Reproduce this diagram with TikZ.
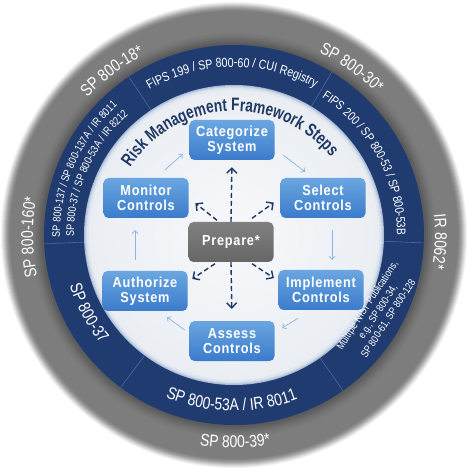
\documentclass[tikz,border=0pt]{standalone}
\usepackage{fontspec}
\setmainfont{Liberation Sans}
\newfontfamily\nar[FakeStretch=0.82]{Liberation Sans}
\newfontfamily\tnar[FakeStretch=0.76]{Liberation Sans}
\newfontfamily\bxf[FakeStretch=0.88,LetterSpace=5]{Liberation Sans}
\usetikzlibrary{decorations.text,arrows.meta,calc}

\definecolor{navy}{HTML}{1F3864}
\definecolor{ringblue}{HTML}{1F3B70}
\definecolor{divblue}{HTML}{4A6AA5}
\definecolor{boxtop}{HTML}{6AA6E1}
\definecolor{boxbot}{HTML}{3B7BCB}
\definecolor{prtop}{HTML}{808080}
\definecolor{prbot}{HTML}{666666}
\definecolor{cycblue}{HTML}{8DB3E2}
\definecolor{gbase}{HTML}{7D7D7D}
\definecolor{gdark}{HTML}{4F4F4F}
\definecolor{wA}{HTML}{F8F9FB}
\definecolor{wB}{HTML}{EAEEF3}
\definecolor{rimA}{HTML}{A9BBD6}
\definecolor{rimB}{HTML}{BFCDE1}
\definecolor{rimC}{HTML}{D1DBE9}
\definecolor{rimD}{HTML}{DFE6EF}

\newcommand\gAf{\nar\fontsize{17pt}{17pt}\selectfont\color{white}}
\newcommand\bAf{\nar\fontsize{13pt}{13pt}\selectfont\color{white}}
\newcommand\bBf{\nar\fontsize{12.5pt}{12.5pt}\selectfont\color{white}}
\newcommand\bCf{\nar\fontsize{11pt}{11pt}\selectfont\color{white}}
\newcommand\bDf{\nar\fontsize{17pt}{17pt}\selectfont\color{white}}
\newcommand\tTf{\tnar\bfseries\fontsize{18pt}{18pt}\selectfont\color{navy}}

% clockwise arc text: #1 format, #2 radius, #3 centre angle, #4 half span, #5 text
\newcommand{\cwtext}[5]{%
  \path[decorate,decoration={text along path,text align=center,text={|#1|#5}}]
    ({#3+#4}:#2pt) arc[start angle={#3+#4},end angle={#3-#4},radius=#2pt];}
% counter-clockwise arc text
\newcommand{\ccwtext}[5]{%
  \path[decorate,decoration={text along path,text align=center,text={|#1|#5}}]
    ({#3-#4}:#2pt) arc[start angle={#3-#4},end angle={#3+#4},radius=#2pt];}
% clockwise, left aligned from start angle #3 to #4
\newcommand{\cwtextleft}[5]{%
  \path[decorate,decoration={text along path,text align=left,text={|#1|#5}}]
    (#3:#2pt) arc[start angle=#3,end angle=#4,radius=#2pt];}

\tikzset{
  stepbox/.style={rounded corners=5pt, top color=boxtop, bottom color=boxbot,
    minimum width=85pt, minimum height=40pt, inner sep=0pt, align=center,
    text=white, font=\bxf\bfseries\fontsize{14.5pt}{15pt}\selectfont},
  prepbox/.style={stepbox, top color=prtop, bottom color=prbot},
  cyc/.style={draw=cycblue, line width=0.7pt, -{Straight Barb[length=3pt,width=6pt]}},
  dasharr/.style={draw=navy, line width=1.4pt, dash pattern=on 5pt off 3pt,
    -{Straight Barb[length=5pt,width=10pt,line width=1.4pt]}},
  divider/.style={draw=divblue, line width=0.6pt}
}

\begin{document}
\begin{tikzpicture}[x=1pt,y=1pt]
\useasboundingbox (-234,-233) rectangle (234,235);
\fill[white] (-234,-233) rectangle (234,235);

% outer gray ring with soft edge and inner shadow
\foreach \r/\p in {233/10,232/20,231/32,230/45,229/58,228/70,227/80,226/88,225/95,224/100}
  \fill[gbase!\p!white] (0,0) circle[radius=\r pt];
\foreach \r/\p in {202/8,200/18,198/30,196/45,194/60,192/75}
  \fill[gdark!\p!gbase] (0,0) circle[radius=\r pt];
% blue ring
\fill[ringblue] (0,0) circle[radius=190pt];
% inner light disc with bluish rim
\fill[rimA] (0,0) circle[radius=150pt];
\fill[rimB] (0,0) circle[radius=149pt];
\fill[rimC] (0,0) circle[radius=148pt];
\fill[rimD] (0,0) circle[radius=147pt];
\foreach \r in {145,140,...,5}{
  \pgfmathtruncatemacro\p{\r/1.45}
  \fill[wB!\p!wA] (0,0) circle[radius=\r pt];}

% dividers in blue ring
\foreach \a in {123.6,59,-2.4,-55,233.4,182.7}
  \draw[divider] (\a:150pt) -- (\a:190pt);

% gray ring texts
\cwtext{\gAf}{201}{126.7}{25}{SP 800-18*}
\cwtext{\gAf}{201}{54.8}{25}{SP 800-30*}
\cwtext{\gAf}{201}{-1.9}{25}{IR 8062*}
\cwtext{\gAf}{201}{180.6}{25}{SP 800-160*}
\ccwtext{\gAf}{213}{-89.7}{25}{SP 800-39*}

% blue ring texts
\cwtext{\bAf}{168}{90.7}{45}{FIPS 199 / SP 800-60 / CUI Registry}
\cwtext{\bBf}{163}{28.6}{40}{FIPS 200 / SP 800-53 / SP 800-53B}
\cwtextleft{\bCf}{174}{180.7}{100}{SP 800-137 / SP 800-137A / IR 8011}
\cwtextleft{\bCf}{160}{180.7}{100}{SP 800-37 / SP 800-53A / IR 8212}
\ccwtext{\bDf}{172}{208.2}{25}{SP 800-37}
\ccwtext{\bDf}{176}{-90.8}{35}{SP 800-53A / IR 8011}
\node[rotate=57, align=center, text=white, inner sep=0pt,
  font=\nar\fontsize{10.5pt}{12.5pt}\selectfont] (multi) at (144,-77)
  {Multiple NIST Publications,\\e.g., SP 800-34,\\SP 800-61, SP 800-128};

% title
\cwtext{\tTf}{124}{92.7}{70}{Risk Management Framework Steps}

% step boxes
\node[stepbox] (cat) at (-2,95) {Categorize\\System};
\node[stepbox] (sel) at (89,37) {Select\\Controls};
\node[stepbox] (impl) at (87,-55) {Implement\\Controls};
\node[stepbox] (ass) at (-2,-106) {Assess\\Controls};
\node[stepbox] (auth) at (-89,-56) {Authorize\\System};
\node[stepbox] (mon) at (-88,37) {Monitor\\Controls};
\node[prepbox] (prep) at (-3,-7) {Prepare*};

% cycle arrows
\draw[cyc] ($(cat.east)+(8.5,-15)$) -- ($(sel.north)+(-18,6)$);
\draw[cyc] ($(sel.south)+(9,-12)$) -- ($(impl.north)+(11,10)$);
\draw[cyc] ($(impl.south)+(-23,-8)$) -- ($(ass.east)+(7.5,13)$);
\draw[cyc] ($(ass.west)+(-4.5,11)$) -- ($(auth.south)+(22,-6)$);
\draw[cyc] ($(auth.north)+(-10,11)$) -- ($(mon.south)+(-11,-12)$);
\draw[cyc] ($(mon.north)+(19,8)$) -- ($(cat.west)+(-6.5,-14)$);

% prepare arrows
\draw[dasharr, shorten >=7pt] (prep.north) -- (cat.south);
\draw[dasharr, shorten >=12pt] (prep.south) -- (ass.north);
\draw[dasharr, shorten >=8.5pt] ($(prep.north)+(-14,1.5)$) -- (mon.east);
\draw[dasharr, shorten >=8pt] ($(prep.north)+(21,3.5)$) -- (sel.west);
\draw[dasharr, shorten >=5.5pt] ($(prep.south)+(-16,-1.5)$) -- ($(auth.east)+(0,9)$);
\draw[dasharr, shorten >=5.3pt] ($(prep.south)+(21,-1.5)$) -- ($(impl.west)+(0,9)$);
\end{tikzpicture}
\end{document}
